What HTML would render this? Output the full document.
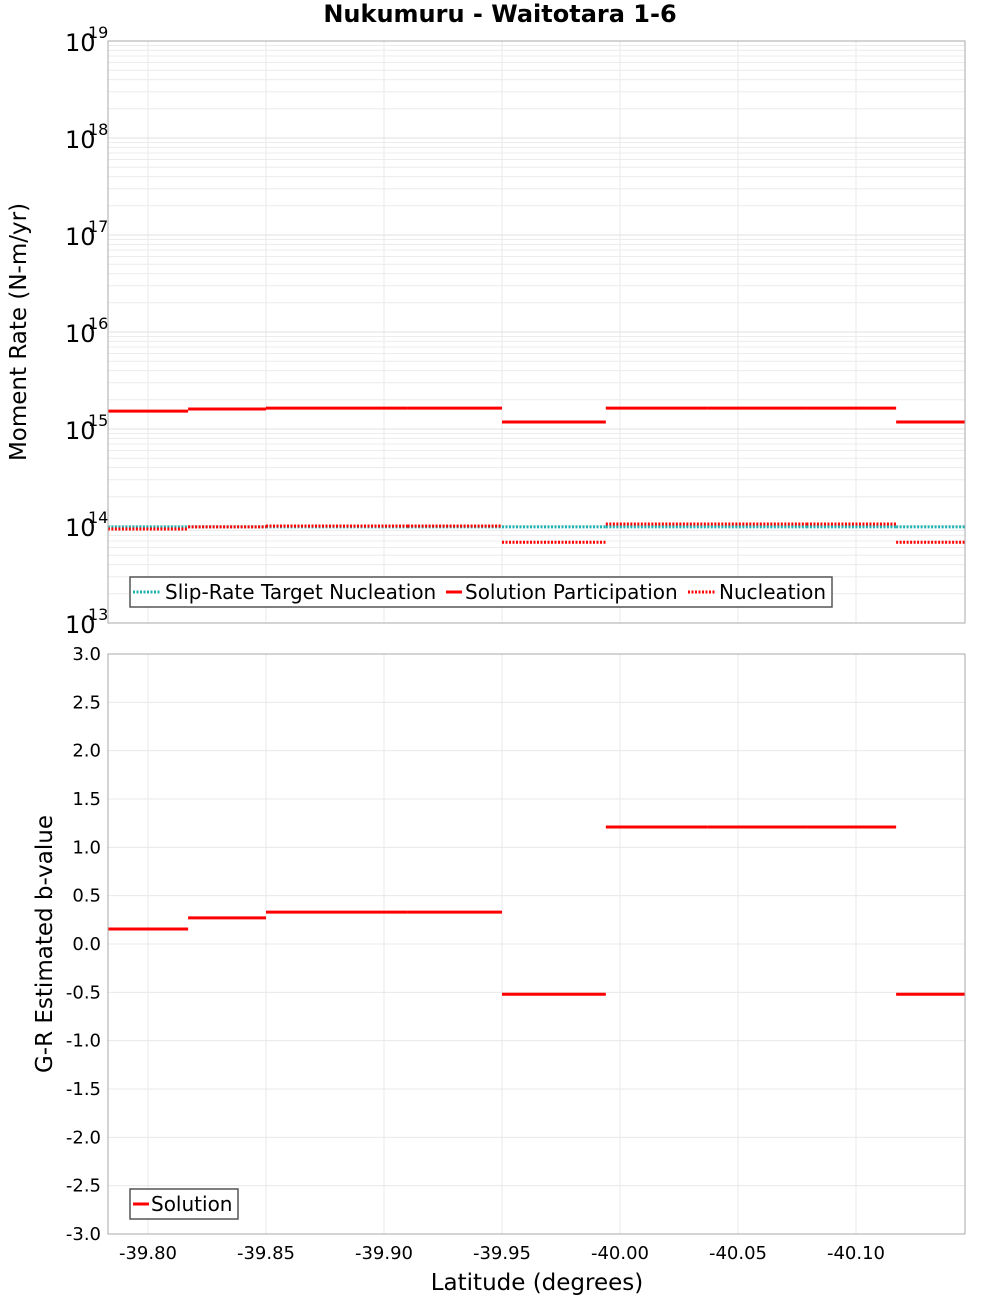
<!DOCTYPE html>
<html><head><meta charset="utf-8"><style>
body{margin:0;background:#fff;}
svg{font-family:"DejaVu Sans","Liberation Sans",sans-serif;}
</style></head><body>
<svg id="c" width="1000" height="1300" xmlns="http://www.w3.org/2000/svg"></svg>
<script>
const segStart=[-39.783,-39.817,-39.850,-39.910,-39.950,-39.994,-40.037,-40.079,-40.117];
const segEnd=[-39.817,-39.850,-39.910,-39.950,-39.994,-40.037,-40.079,-40.117,-40.146];
const participation=[1.53e15,1.61e15,1.64e15,1.64e15,1.18e15,1.64e15,1.64e15,1.64e15,1.18e15];
const nucleation=[9.3e13,9.8e13,1.0e14,1.0e14,6.8e13,1.05e14,1.05e14,1.05e14,6.8e13];
const target=[9.8e13,9.8e13,9.8e13,9.8e13,9.8e13,9.8e13,9.8e13,9.8e13,9.8e13];
const bValues=[0.155,0.27,0.33,0.33,-0.52,1.21,1.21,1.21,-0.52];
const xTicks=[-39.80,-39.85,-39.90,-39.95,-40.00,-40.05,-40.10];
const logTicks=[13,14,15,16,17,18,19];
const bTicks=[-3,-2.5,-2,-1.5,-1,-0.5,0,0.5,1,1.5,2,2.5,3];

const svg=document.getElementById('c');
const NS='http://www.w3.org/2000/svg';
function el(tag,attrs,parent){const e=document.createElementNS(NS,tag);for(const k in attrs)e.setAttribute(k,attrs[k]);(parent||svg).appendChild(e);return e;}
const L=108,R=965,T1=41,B1=623,T2=654,B2=1234;
const xS=v=>148+(-39.80-v)/0.05*118;
const yTop=v=>T1+(19-Math.log10(v))/6*(B1-T1);
const yBot=v=>T2+(3-v)/6*(B2-T2);

[[T1,B1,'top-plot'],[T2,B2,'bottom-plot']].forEach(([t,b,n])=>{
 const r=el('rect',{x:L,y:t,width:R-L,height:b-t,fill:'#fff',stroke:'none'});
 
 
 xTicks.forEach(v=>{const g=el('line',{x1:xS(v),x2:xS(v),y1:t,y2:b,stroke:'#e8e8e8'});
 
 });
});
for(let d=13;d<19;d++){for(let m=1;m<10;m++){const y=yTop(m*Math.pow(10,d));
 const g=el('line',{x1:L,x2:R,y1:y,y2:y,stroke:m==1?'#e0e0e0':'#ececec'});
 
 }}
bTicks.forEach(v=>{const g=el('line',{x1:L,x2:R,y1:yBot(v),y2:yBot(v),stroke:'#e8e8e8'});
 
 });

function series(vals,yf,color,dash,name){
 vals.forEach((v,i)=>{const a={x1:xS(segStart[i]),x2:xS(segEnd[i]),y1:yf(v),y2:yf(v),stroke:color,'stroke-width':3};
 if(dash)a['stroke-dasharray']=dash;
 const l=el('line',a);
 
 });
}
series(target,yTop,'#1ab2b2','2 1.5','target-nucleation-segment');
series(nucleation,yTop,'#ff0000','2 1.5','nucleation-segment');
series(participation,yTop,'#ff0000',null,'participation-segment');
series(bValues,yBot,'#ff0000',null,'b-value-segment');

[[T1,B1],[T2,B2]].forEach(([t,b])=>{const r=el('rect',{x:L,y:t,width:R-L,height:b-t,fill:'none',stroke:'#aaa'});
 
 });

logTicks.forEach(d=>{const y=yTop(Math.pow(10,d));
 const t=el('text',{x:65,y:y+10,'font-size':24,fill:'#000'});t.textContent='10';
 
 
 const s=el('text',{x:88,y:y-3,'font-size':16,fill:'#000'});s.textContent=d;
 
 });
bTicks.forEach(v=>{const t=el('text',{x:101,y:yBot(v)+6,'font-size':18,'text-anchor':'end',fill:'#000'});
 t.textContent=v.toFixed(1);
 
 });
xTicks.forEach(v=>{const t=el('text',{x:xS(v),y:1259,'font-size':18,'text-anchor':'middle',fill:'#000'});
 t.textContent=v.toFixed(2);
 
 });

let t=el('text',{x:500,y:22,'font-size':24,'font-weight':'bold','text-anchor':'middle'});t.textContent='Nukumuru - Waitotara 1-6';


t=el('text',{x:537,y:1290,'font-size':23,'text-anchor':'middle'});t.textContent='Latitude (degrees)';


t=el('text',{x:0,y:0,'font-size':23,'text-anchor':'middle',transform:'translate(26,332) rotate(-90)'});t.textContent='Moment Rate (N-m/yr)';


t=el('text',{x:0,y:0,'font-size':23,'text-anchor':'middle',transform:'translate(52,944) rotate(-90)'});t.textContent='G-R Estimated b-value';



let g=el('g',{});


el('rect',{x:130,y:577,width:702,height:30,fill:'#fff',stroke:'#555','stroke-width':1.5},g);
el('line',{x1:133,x2:161,y1:592,y2:592,stroke:'#1ab2b2','stroke-width':3,'stroke-dasharray':'2 1.5'},g);
t=el('text',{x:165,y:599,'font-size':20},g);t.textContent='Slip-Rate Target Nucleation';


el('line',{x1:446,x2:462,y1:592,y2:592,stroke:'#ff0000','stroke-width':3},g);
t=el('text',{x:465,y:599,'font-size':20},g);t.textContent='Solution Participation';


el('line',{x1:688,x2:716,y1:592,y2:592,stroke:'#ff0000','stroke-width':3,'stroke-dasharray':'2 1.5'},g);
t=el('text',{x:719,y:599,'font-size':20},g);t.textContent='Nucleation';



g=el('g',{});


el('rect',{x:130,y:1189,width:108,height:30,fill:'#fff',stroke:'#555','stroke-width':1.5},g);
el('line',{x1:133,x2:149,y1:1204,y2:1204,stroke:'#ff0000','stroke-width':3},g);
t=el('text',{x:151,y:1211,'font-size':20},g);t.textContent='Solution';


</script>
</body></html>
